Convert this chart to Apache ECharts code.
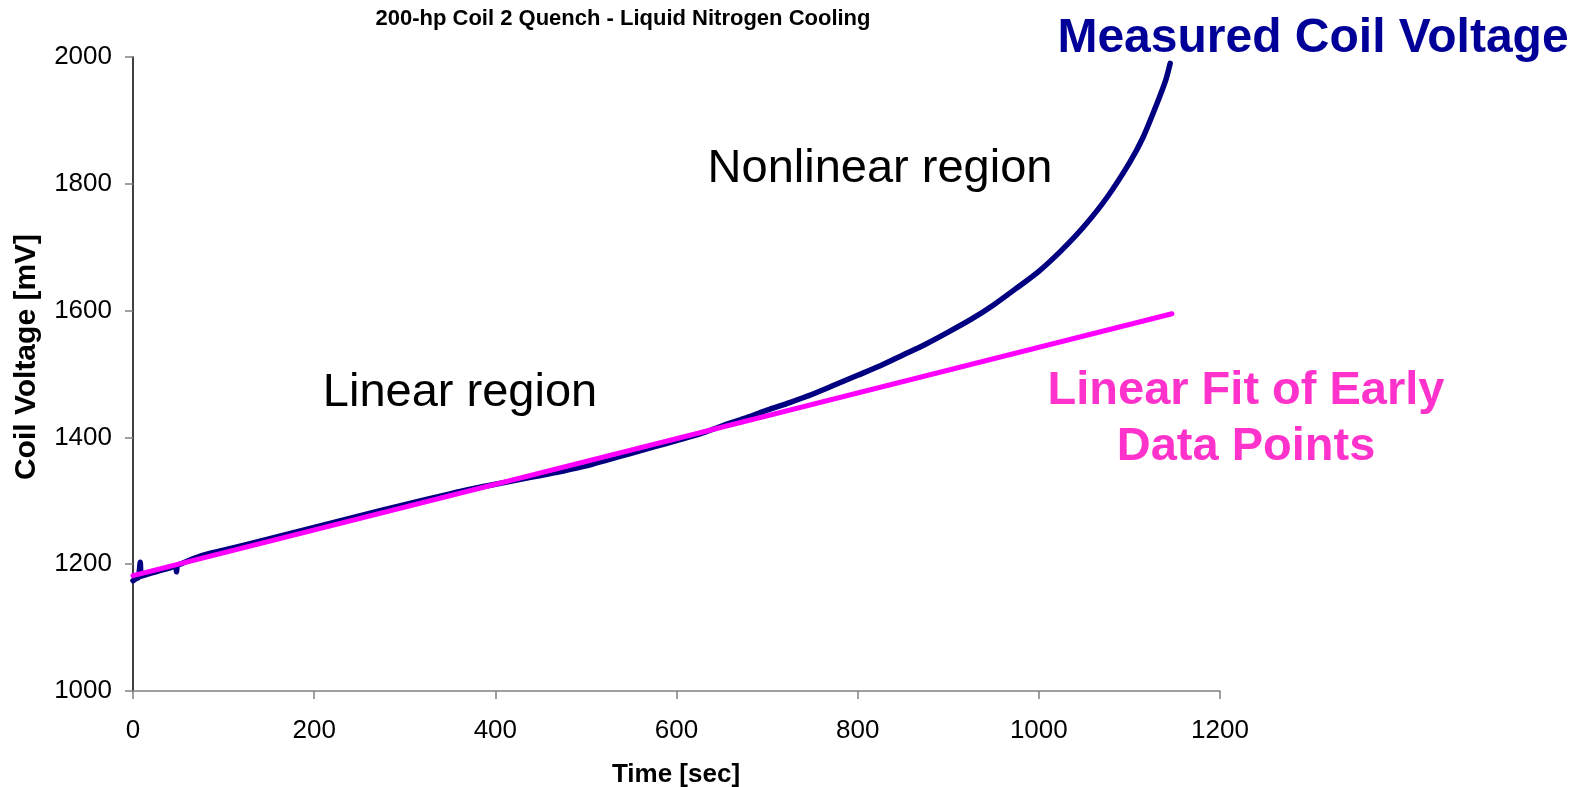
<!DOCTYPE html>
<html>
<head>
<meta charset="utf-8">
<script src="https://cdn.jsdelivr.net/npm/echarts@6/dist/echarts.min.js"></script>
<style>html,body{margin:0;padding:0;background:#fff}#c{width:1577px;height:787px}</style>
</head>
<body>
<div id="c"></div>
<script>
// Measured coil voltage (time in s, voltage in mV)
const measuredTime = [0, 3, 6, 8, 9, 11, 25, 40, 47, 48, 49, 52, 75, 100, 150, 200, 250, 300, 350, 375, 400, 425, 450, 475, 500, 525, 550, 575, 600, 625, 650, 675, 700, 725, 750, 775, 800, 825, 850, 875, 900, 925, 950, 975, 1000, 1025, 1050, 1075, 1100, 1115, 1130, 1140, 1145];
const measuredVolt = [1174, 1177, 1179, 1203, 1181, 1182, 1188, 1194, 1197, 1188, 1198, 1200, 1213, 1222, 1240, 1258, 1276, 1294, 1311, 1319, 1326, 1333, 1340, 1347, 1355, 1365, 1375, 1385, 1395, 1405, 1418, 1430, 1443, 1455, 1468, 1483, 1498, 1513, 1530, 1547, 1566, 1586, 1609, 1635, 1662, 1695, 1733, 1778, 1833, 1873, 1925, 1963, 1990];
// Linear fit of early data points (endpoints)
const fitTime = [0, 1147];
const fitVolt = [1182, 1595];
// Axis ticks
const xTicks = [0, 200, 400, 600, 800, 1000, 1200];
const yTicks = [1000, 1200, 1400, 1600, 1800, 2000];

const chartTitle = '200-hp Coil 2 Quench - Liquid Nitrogen Cooling';
const xName = 'Time [sec]';
const yName = 'Coil Voltage [mV]';
const measuredName = 'Measured Coil Voltage';
const fitName = 'Linear Fit of Early\nData Points';
const note1 = 'Linear region';
const note2 = 'Nonlinear region';

const FONT = '"Liberation Sans", Arial, sans-serif';
const chart = echarts.init(document.getElementById('c'), null, {renderer: 'canvas'});
chart.setOption({
  animation: false,
  backgroundColor: '#ffffff',
  grid: {left: 133, right: 357, top: 57, bottom: 96, containLabel: false},
  xAxis: {
    type: 'value', min: xTicks[0], max: xTicks[xTicks.length - 1], interval: 200,
    axisLine: {show: true, lineStyle: {color: '#808080', width: 1.5}},
    axisTick: {show: true, inside: false, length: 8, lineStyle: {color: '#808080', width: 1.5}},
    axisLabel: {color: '#000', fontSize: 26, fontFamily: FONT, margin: 27, formatter: v => String(v)},
    splitLine: {show: false}
  },
  yAxis: {
    type: 'value', min: yTicks[0], max: yTicks[yTicks.length - 1], interval: 200,
    axisLine: {show: true, lineStyle: {color: '#000', width: 1.5}},
    axisTick: {show: true, inside: false, length: 8, lineStyle: {color: '#808080', width: 1.5}},
    axisLabel: {color: '#000', fontSize: 26, fontFamily: FONT, margin: 21, formatter: v => String(v)},
    splitLine: {show: false}
  },
  series: [
    {
      name: measuredName, type: 'line', showSymbol: false, smooth: 0.25,
      data: measuredTime.map((t, i) => [t, measuredVolt[i]]),
      lineStyle: {color: '#000080', width: 5.5, cap: 'round', join: 'round'},
      z: 2
    },
    {
      name: 'Linear Fit', type: 'line', showSymbol: false,
      data: fitTime.map((t, i) => [t, fitVolt[i]]),
      lineStyle: {color: '#FF00FF', width: 5, cap: 'round'},
      z: 3
    }
  ],
  graphic: [
    {type: 'text', style: {text: chartTitle, x: 623, y: 19, align: 'center', verticalAlign: 'middle', font: 'bold 22px ' + FONT, fill: '#000'}},
    {type: 'text', style: {text: xName, x: 676, y: 775, align: 'center', verticalAlign: 'middle', font: 'bold 26px ' + FONT, fill: '#000'}},
    {type: 'text', x: 27, y: 357, rotation: Math.PI / 2, style: {text: yName, x: 0, y: 0, align: 'center', verticalAlign: 'middle', font: 'bold 30px ' + FONT, fill: '#000'}},
    {type: 'text', style: {text: measuredName, x: 1313, y: 39, align: 'center', verticalAlign: 'middle', font: 'bold 48px ' + FONT, fill: '#000099'}},
    {type: 'text', style: {text: fitName, x: 1246, y: 419, align: 'center', verticalAlign: 'middle', lineHeight: 56, font: 'bold 47px ' + FONT, fill: '#FF33CC'}},
    {type: 'text', style: {text: note1, x: 460, y: 393, align: 'center', verticalAlign: 'middle', font: '47px ' + FONT, fill: '#000'}},
    {type: 'text', style: {text: note2, x: 880, y: 169, align: 'center', verticalAlign: 'middle', font: '47px ' + FONT, fill: '#000'}}
  ]
});
</script>
</body>
</html>
